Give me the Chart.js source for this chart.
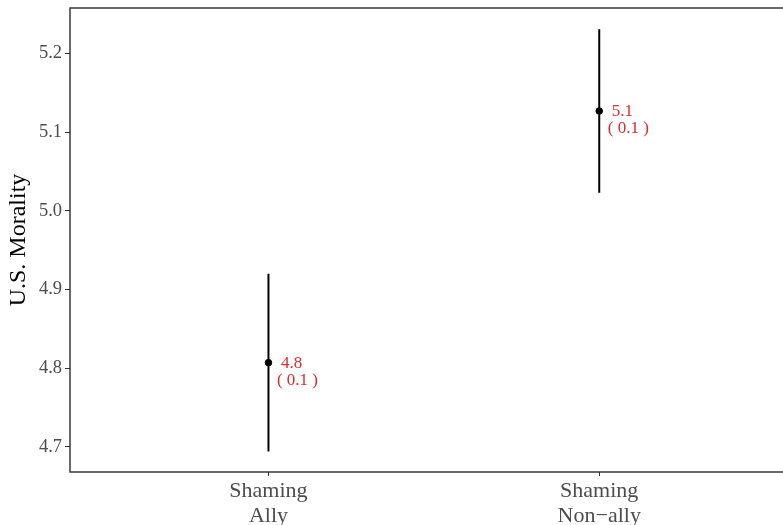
<!DOCTYPE html>
<html>
<head>
<meta charset="utf-8">
<script src="https://cdn.jsdelivr.net/npm/chart.js@4"></script>
<style>
  html, body { margin: 0; padding: 0; background: #fff; }
  #wrap { width: 783px; height: 525px; overflow: hidden; position: relative; }
  #wrap canvas { position: absolute; left: 0; top: 0; }
</style>
</head>
<body>
<div id="wrap"><canvas id="chart" width="802" height="525"></canvas></div>
<script>
// ------------------------------
// data
// ------------------------------

const categories = [["Shaming", "Ally"], ["Shaming", "Non\u2212ally"]];

const means = [4.807, 5.127];

const lower = [4.694, 5.023];

const upper = [4.920, 5.231];

const meanLabels = ["4.8", "5.1"];

const seLabels = ["( 0.1 )", "( 0.1 )"];

const yTicks = [4.7, 4.8, 4.9, 5.0, 5.1, 5.2];

const FONT = "'Liberation Serif', 'DejaVu Serif', serif";


// ------------------------------
// error bars, one little line per category
// ------------------------------

const errorSets = categories.map((c, i) => ({
    type: "line",
    data: [{ x: i, y: lower[i] }, { x: i, y: upper[i] }],
    borderColor: "#000",
    borderWidth: 2,
    pointRadius: 0,
    fill: false
}));


// panel border + red value labels
const extras = {
    id: "extras",
    beforeDatasetsDraw(chart) {
        const { ctx, chartArea: a } = chart;
        ctx.save();
        ctx.strokeStyle = "#2b2b2b";
        ctx.lineWidth = 1.4;
        ctx.strokeRect(a.left, a.top, a.right - a.left, a.bottom - a.top);
        ctx.restore();
    },
    afterDatasetsDraw(chart) {
        const { ctx } = chart;
        const xs = chart.scales.x, ys = chart.scales.y;
        ctx.save();
        ctx.fillStyle = "#dc2a2f";
        ctx.font = "17px " + FONT;
        ctx.textBaseline = "middle";
        ctx.textAlign = "left";
        means.forEach((m, i) => {
            const px = xs.getPixelForValue(i);
            const py = ys.getPixelForValue(m);
            ctx.fillText(meanLabels[i], px + 12.5, py + 1);
            ctx.fillText(seLabels[i], px + 8.5, py + 17.5);
        });
        ctx.restore();
    }
};


const chart = new Chart(document.getElementById("chart"), {

    type: "scatter",

    data: {
        datasets: [
            ...errorSets,
            {
                type: "scatter",
                data: means.map((m, i) => ({ x: i, y: m })),
                backgroundColor: "#000",
                borderColor: "#000",
                pointRadius: 3.3,
                pointHoverRadius: 3.3
            }
        ]
    },

    options: {
        responsive: false,
        animation: false,
        events: [],
        layout: { padding: { top: 8, right: 0, left: 0, bottom: 0 } },
        plugins: {
            legend: { display: false },
            tooltip: { enabled: false }
        },
        scales: {
            x: {
                type: "linear",
                min: -0.6,
                max: 1.6,
                afterBuildTicks: (s) => { s.ticks = categories.map((c, i) => ({ value: i })); },
                afterFit: (s) => { s.height = 53; s.paddingLeft = 0; s.paddingRight = 0; },
                grid: { drawOnChartArea: false, drawTicks: true, tickLength: 4, color: "#333" },
                border: { display: false },
                ticks: {
                    callback: (v) => categories[v],
                    color: "#4d4d4d",
                    font: { family: FONT, size: 22, lineHeight: 1.14 },
                    padding: 3,
                    maxRotation: 0
                }
            },
            y: {
                min: 4.668,
                max: 5.258,
                afterBuildTicks: (s) => { s.ticks = yTicks.map(v => ({ value: v })); },
                afterFit: (s) => { s.width = 70; s.paddingTop = 0; s.paddingBottom = 0; },
                grid: { drawOnChartArea: false, drawTicks: true, tickLength: 5, color: "#333" },
                border: { display: false },
                ticks: {
                    callback: (v) => v.toFixed(1),
                    color: "#4d4d4d",
                    font: { family: FONT, size: 18.5 },
                    padding: 3
                },
                title: {
                    display: true,
                    text: "U.S. Morality",
                    color: "#000",
                    font: { family: FONT, size: 24 },
                    padding: { top: 4, bottom: 0 }
                }
            }
        }
    },

    plugins: [extras]

});
</script>
</body>
</html>
